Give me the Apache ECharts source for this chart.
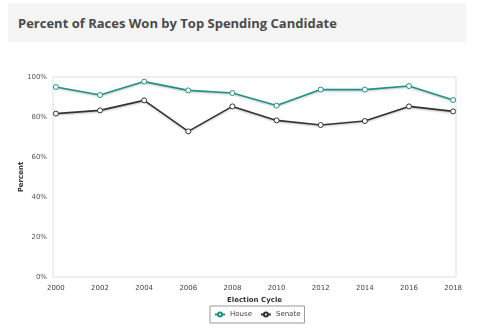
<!DOCTYPE html>
<html>
<head>
<meta charset="utf-8">
<script src="https://cdn.jsdelivr.net/npm/echarts@6/dist/echarts.min.js"></script>
<style>
  html, body { margin: 0; padding: 0; background: #fff; }
  #header { position: absolute; left: 8px; top: 3px; width: 458px; height: 39px; background: #f5f5f5; }
  #header span { position: absolute; left: 10px; top: 11px; font: bold 13px "Open Sans", sans-serif; color: #4a4a4a; }
  #chart { position: absolute; left: 0; top: 0; width: 481px; height: 333px; }
</style>
</head>
<body>
<div id="header"><span>Percent of Races Won by Top Spending Candidate</span></div>
<div id="chart"></div>
<script>
const cycles = [2000, 2002, 2004, 2006, 2008, 2010, 2012, 2014, 2016, 2018];
const house = [95, 91, 97.7, 93.3, 92, 85.7, 93.7, 93.7, 95.5, 88.5];
const senate = [81.7, 83.3, 88.3, 72.8, 85.3, 78.3, 76, 78, 85.3, 82.8];
const yTicks = [0, 20, 40, 60, 80, 100];

const teal = '#1f9188';
const dark = '#333333';
const font = 'Verdana, "DejaVu Sans", sans-serif';

const chart = echarts.init(document.getElementById('chart'), null, { renderer: 'canvas' });

function lineSeries(name, values, color) {
  return {
    name: name,
    type: 'line',
    data: cycles.map((c, i) => [c, values[i]]),
    symbol: 'circle',
    symbolSize: 5,
    showSymbol: true,
    lineStyle: { color: color, width: 1.6, shadowColor: 'rgba(0,0,0,0.25)', shadowBlur: 2, shadowOffsetY: 1 },
    itemStyle: { color: '#fff', borderColor: color, borderWidth: 1 },
    emphasis: { disabled: true },
    animation: false
  };
}

chart.setOption({
  animation: false,
  textStyle: { fontFamily: font },
  grid: {
    left: 53, top: 77, width: 403, height: 200,
    show: true, borderColor: '#e0e0e0', borderWidth: 1, backgroundColor: '#fff'
  },
  xAxis: {
    type: 'value',
    min: 1999.87, max: 2018.13,
    name: 'Election Cycle',
    nameLocation: 'middle',
    nameGap: 20,
    nameMoveOverlap: false,
    nameTextStyle: { fontSize: 7, fontWeight: 'bold', color: '#333', fontFamily: font },
    axisLine: { show: false },
    axisTick: { show: false },
    splitLine: { show: false },
    axisLabel: {
      customValues: cycles,
      fontSize: 7, color: '#444', margin: 8,
      formatter: v => String(v)
    }
  },
  yAxis: {
    type: 'value',
    min: 0, max: 100, interval: 20,
    name: 'Percent',
    nameLocation: 'middle',
    nameGap: 28,
    nameMoveOverlap: false,
    nameTextStyle: { fontSize: 7, fontWeight: 'bold', color: '#333', fontFamily: font },
    axisLine: { show: false },
    axisTick: { show: false },
    splitLine: { show: false },
    axisLabel: {
      customValues: yTicks,
      fontSize: 7, color: '#555', margin: 6,
      formatter: v => v + '%'
    }
  },
  legend: {
    orient: 'horizontal',
    left: 210, top: 306,
    itemWidth: 10, itemHeight: 5,
    itemGap: 8,
    padding: [5, 4, 5, 4],
    borderColor: '#999', borderWidth: 1,
    textStyle: { fontSize: 7, color: '#444', fontFamily: font },
    data: ['House', 'Senate'],
    selectedMode: false
  },
  series: [
    lineSeries('House', house, teal),
    lineSeries('Senate', senate, dark)
  ]
});
</script>
</body>
</html>
